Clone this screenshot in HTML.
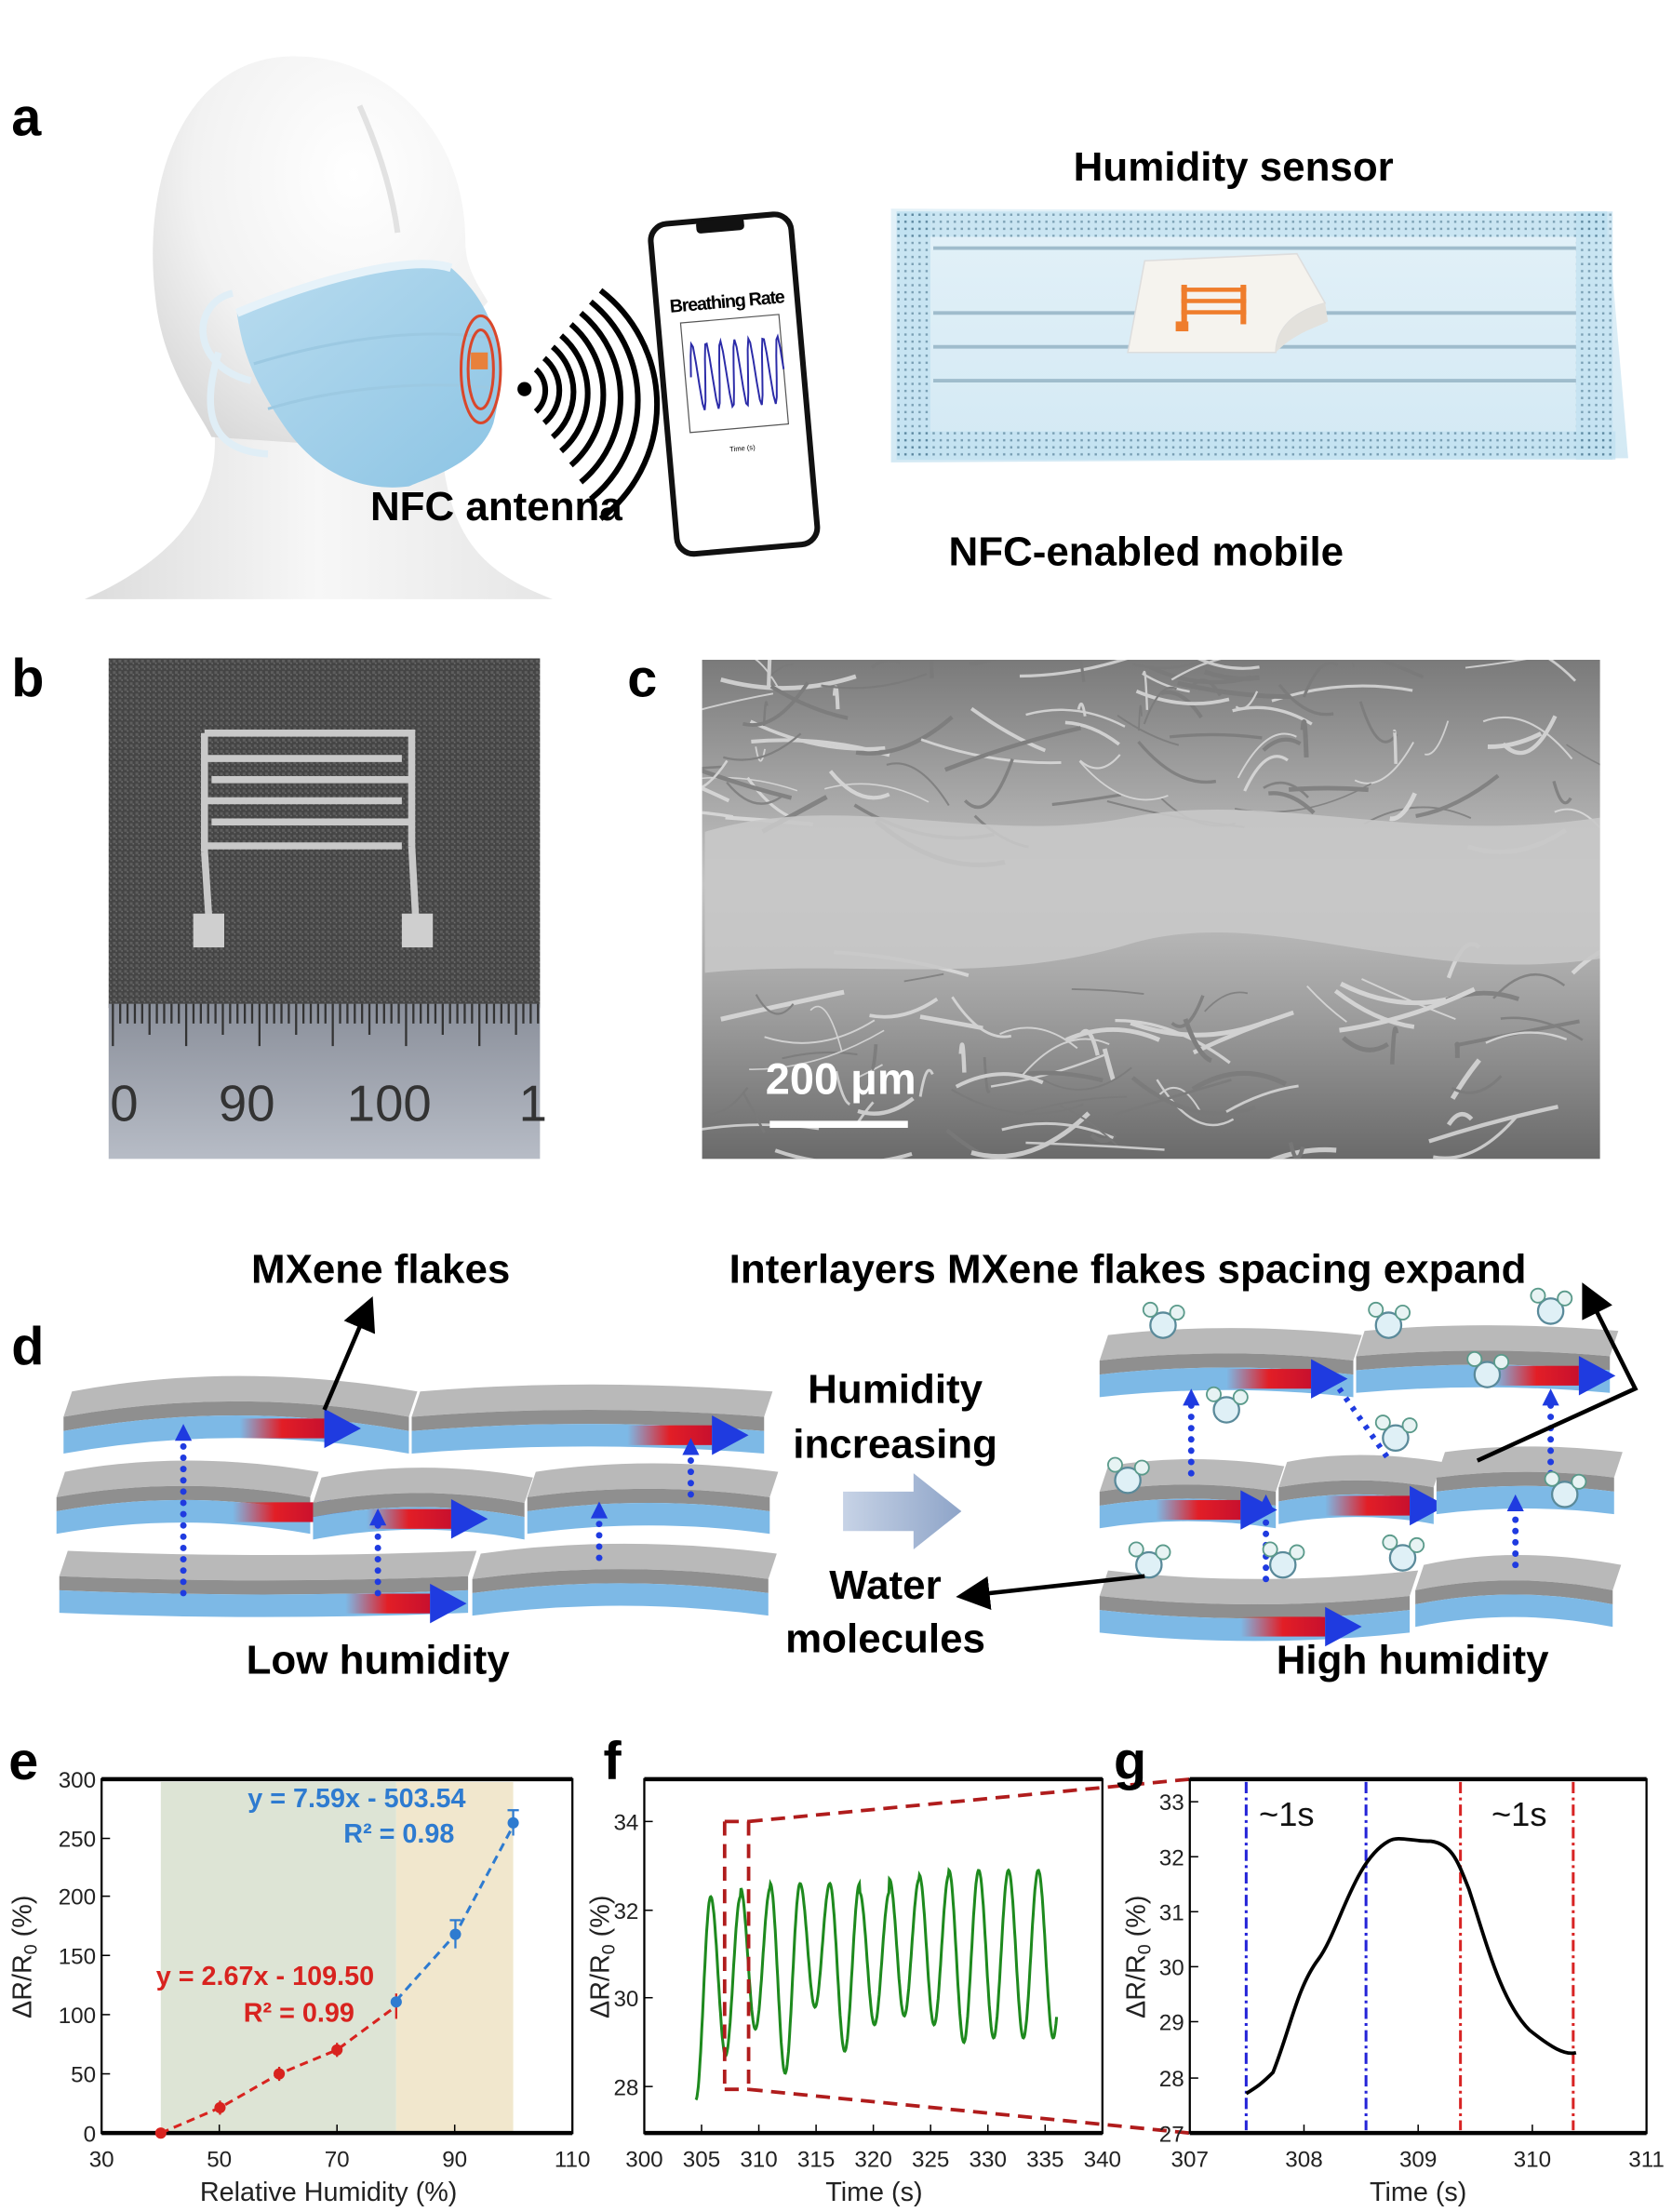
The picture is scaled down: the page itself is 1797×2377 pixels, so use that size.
<!DOCTYPE html>
<html><head><meta charset="utf-8">
<style>
html,body{margin:0;padding:0;background:#fff;}
svg{display:block;}
text{font-family:"Liberation Sans",sans-serif;}
</style></head>
<body>
<svg id="s" width="1797" height="2377" viewBox="0 0 1186 1569" xmlns="http://www.w3.org/2000/svg">
<defs>
<radialGradient id="head" cx="0.6" cy="0.3" r="0.8"><stop offset="0" stop-color="#ffffff"/><stop offset="0.6" stop-color="#f2f2f2"/><stop offset="1" stop-color="#d6d6d6"/></radialGradient>
<linearGradient id="neck" x1="0" y1="0" x2="1" y2="0"><stop offset="0" stop-color="#dcdcdc"/><stop offset="0.5" stop-color="#f7f7f7"/><stop offset="1" stop-color="#e6e6e6"/></linearGradient>
<linearGradient id="mask" x1="0" y1="0" x2="1" y2="1"><stop offset="0" stop-color="#b9dcef"/><stop offset="1" stop-color="#8cc4e4"/></linearGradient>
<linearGradient id="flat" x1="0" y1="0" x2="0" y2="1"><stop offset="0" stop-color="#e3f1f8"/><stop offset="1" stop-color="#d3e9f4"/></linearGradient>
<pattern id="dots" width="5" height="5" patternUnits="userSpaceOnUse"><rect width="5" height="5" fill="#bfe0f0"/><rect x="1.5" y="1.5" width="1.6" height="1.6" fill="#4f7d96"/></pattern>
<pattern id="fab" width="4" height="4" patternUnits="userSpaceOnUse"><rect width="4" height="4" fill="#454545"/><rect width="2" height="2" fill="#5e5e5e"/><rect x="2" y="2" width="1" height="1" fill="#727272"/></pattern>
<linearGradient id="sem" x1="0" y1="0" x2="0" y2="1"><stop offset="0" stop-color="#7a7a7a"/><stop offset="0.45" stop-color="#c4c4c4"/><stop offset="0.7" stop-color="#9f9f9f"/><stop offset="1" stop-color="#6a6a6a"/></linearGradient>
<linearGradient id="ruler" x1="0" y1="0" x2="0" y2="1"><stop offset="0" stop-color="#8a8f9a"/><stop offset="1" stop-color="#b7bcc6"/></linearGradient>
<linearGradient id="harrow" x1="0" y1="0" x2="1" y2="0"><stop offset="0" stop-color="#c7d3e6"/><stop offset="1" stop-color="#8ea4c8"/></linearGradient>
<linearGradient id="red" x1="0" y1="0" x2="1" y2="0"><stop offset="0" stop-color="#e21e26" stop-opacity="0"/><stop offset="0.5" stop-color="#e21e26"/><stop offset="1" stop-color="#c8102e"/></linearGradient>
<clipPath id="semclip"><rect x="498" y="468" width="637" height="354"/></clipPath>
<marker id="ah" markerWidth="8" markerHeight="8" refX="6" refY="4" orient="auto"><path d="M0,0 L8,4 L0,8 z" fill="#000"/></marker>
</defs>

<!-- ===== a ===== -->
<text x="8" y="96" font-size="38" font-weight="bold">a</text>
<!-- neck & base -->
<path d="M150,290 C160,340 140,390 60,425 L392,425 C340,405 315,380 312,300 Z" fill="url(#neck)"/>
<!-- head -->
<path d="M205,40 C275,38 330,95 330,170 C330,190 338,200 346,214 L336,226 C342,245 336,262 340,282 C330,300 318,306 300,302 L300,320 L150,310 C140,290 115,260 110,210 C100,120 135,42 205,40 Z" fill="url(#head)"/>
<path d="M255,75 C275,120 280,150 282,165" stroke="#e2e2e2" stroke-width="4" fill="none"/>
<!-- ear loops -->
<path d="M165,208 C135,215 135,260 178,270" stroke="#e0eef6" stroke-width="5" fill="none"/>
<path d="M155,250 C140,300 155,320 190,322" stroke="#e0eef6" stroke-width="5" fill="none"/>
<!-- mask -->
<path d="M168,222 C220,200 290,180 320,190 C355,220 360,260 350,300 C340,330 300,340 290,345 C250,350 220,330 200,300 C180,270 172,250 168,222 Z" fill="url(#mask)"/>
<path d="M168,222 C220,200 290,180 320,190" stroke="#e6f2f9" stroke-width="6" fill="none"/>
<path d="M180,258 C240,240 300,232 350,240" stroke="#9cc9e2" stroke-width="2" fill="none"/>
<path d="M190,290 C240,275 300,270 348,275" stroke="#9cc9e2" stroke-width="2" fill="none"/>
<ellipse cx="341" cy="262" rx="14" ry="38" fill="none" stroke="#d9472b" stroke-width="2"/>
<ellipse cx="341" cy="262" rx="9" ry="28" fill="none" stroke="#d9472b" stroke-width="2"/>
<rect x="334" y="250" width="12" height="12" fill="#e8813b"/>
<!-- NFC waves -->
<circle cx="372" cy="276" r="5" fill="#000"/>
<g fill="none" stroke="#000" stroke-width="4">
<path d="M380,262 A20,20 0 0 1 380,292"/>
<path d="M386,254 A30,30 0 0 1 386,300"/>
<path d="M392,246 A42,42 0 0 1 392,310"/>
<path d="M398,238 A54,54 0 0 1 398,320"/>
<path d="M405,230 A66,66 0 0 1 405,330"/>
<path d="M412,222 A78,78 0 0 1 412,342"/>
<path d="M419,214 A90,90 0 0 1 419,354"/>
<path d="M426,206 A102,102 0 0 1 426,368"/>
</g>
<!-- phone -->
<g transform="rotate(-5 520 265)">
<rect x="470" y="155" width="100" height="235" rx="12" fill="#fff" stroke="#111" stroke-width="4"/>
<rect x="503" y="155" width="34" height="9" rx="3" fill="#111"/>
<text x="520" y="218" font-size="13" font-weight="bold" text-anchor="middle" letter-spacing="-0.8">Breathing Rate</text>
<rect x="486" y="226" width="70" height="78" fill="none" stroke="#555" stroke-width="0.8"/>
<path id="bw" d="" fill="none" stroke="#2b2ba8" stroke-width="1.3"/>
<text x="522" y="320" font-size="5" text-anchor="middle">Time (s)</text>
</g>
<!-- flat mask -->
<path d="M632,148 L1140,150 L1155,325 L632,328 Z" fill="url(#flat)"/>
<rect x="636" y="150" width="504" height="18" fill="url(#dots)" opacity="0.7"/>
<rect x="636" y="306" width="510" height="20" fill="url(#dots)" opacity="0.7"/>
<rect x="636" y="150" width="24" height="176" fill="url(#dots)" opacity="0.7"/>
<rect x="1118" y="150" width="26" height="176" fill="url(#dots)" opacity="0.7"/>
<g stroke="#9fbccc" stroke-width="2.5"><line x1="662" y1="176" x2="1118" y2="176"/><line x1="662" y1="222" x2="1118" y2="222"/><line x1="662" y1="246" x2="1118" y2="246"/><line x1="662" y1="270" x2="1118" y2="270"/></g>
<path d="M812,185 L920,180 L940,215 C912,222 905,238 905,250 L800,250 Z" fill="#f5f3ee" stroke="#ddd"/>
<path d="M940,215 C912,222 905,238 905,250 C918,236 935,232 942,228 Z" fill="#e3e1dc"/>
<g fill="#ef7d2c"><rect x="838" y="202" width="4" height="28"/><rect x="880" y="202" width="4" height="28"/><rect x="838" y="204" width="46" height="3"/><rect x="838" y="212" width="46" height="3"/><rect x="838" y="220" width="46" height="3"/><rect x="834" y="228" width="9" height="7"/></g>
<text x="875" y="128" font-size="29" font-weight="bold" text-anchor="middle">Humidity sensor</text>
<text x="352" y="369" font-size="29" font-weight="bold" text-anchor="middle">NFC antenna</text>
<text x="813" y="401" font-size="29" font-weight="bold" text-anchor="middle">NFC-enabled mobile</text>

<!-- ===== b ===== -->
<text x="8" y="494" font-size="38" font-weight="bold">b</text>
<rect x="77" y="467" width="306" height="248" fill="url(#fab)"/>
<g fill="none" stroke="#c9c9c9" stroke-width="5">
<path d="M145,520 L292,520 L292,600 M145,520 L145,604"/>
<path d="M145,538 L285,538 M150,553 L292,553 M145,568 L285,568 M150,583 L292,583 M145,600 L285,600"/>
<path d="M145,604 L148,650 M292,600 L295,655"/>
</g>
<rect x="137" y="648" width="22" height="24" fill="#cfcfcf"/><rect x="285" y="648" width="22" height="24" fill="#cfcfcf"/>
<rect x="77" y="712" width="306" height="110" fill="url(#ruler)"/>
<g stroke="#333" stroke-width="1.5" id="ticks"></g>
<text x="78" y="795" font-size="36" fill="#333">0</text>
<text x="155" y="795" font-size="36" fill="#333">90</text>
<text x="246" y="795" font-size="36" fill="#333">100</text>
<text x="368" y="795" font-size="36" fill="#333">1</text>

<!-- ===== c ===== -->
<text x="445" y="494" font-size="38" font-weight="bold">c</text>
<rect x="498" y="468" width="637" height="354" fill="url(#sem)"/>
<g clip-path="url(#semclip)">
<g id="fib" stroke="#d6d6d6" fill="none" stroke-width="2" opacity="0.8"></g>
<path d="M500,590 C600,560 700,600 800,580 C900,560 1000,600 1135,580 L1135,680 C1000,700 900,640 800,670 C700,700 600,680 500,690 Z" fill="#c8c8c8" opacity="0.9"/>
</g>
<text x="543" y="776" font-size="31" font-weight="bold" fill="#fff">200 μm</text>
<rect x="546" y="795" width="98" height="5" fill="#fff"/>

<!-- ===== d ===== -->
<text x="8" y="968" font-size="38" font-weight="bold">d</text>
<g id="flakes"></g>
<text x="270" y="910" font-size="29" font-weight="bold" text-anchor="middle">MXene flakes</text>
<line x1="230" y1="1000" x2="262" y2="925" stroke="#000" stroke-width="3" marker-end="url(#ah)"/>
<text x="800" y="910" font-size="29" font-weight="bold" text-anchor="middle">Interlayers MXene flakes spacing expand</text>
<path d="M1048,1036 L1160,985 L1125,915" fill="none" stroke="#000" stroke-width="3" marker-end="url(#ah)"/>
<text x="635" y="995" font-size="29" font-weight="bold" text-anchor="middle">Humidity</text>
<text x="635" y="1034" font-size="29" font-weight="bold" text-anchor="middle">increasing</text>
<path d="M598,1058 L648,1058 L648,1045 L682,1072 L648,1099 L648,1086 L598,1086 Z" fill="url(#harrow)"/>
<text x="628" y="1134" font-size="29" font-weight="bold" text-anchor="middle">Water</text>
<text x="628" y="1172" font-size="29" font-weight="bold" text-anchor="middle">molecules</text>
<line x1="812" y1="1118" x2="684" y2="1132" stroke="#000" stroke-width="3" marker-end="url(#ah)"/>
<text x="268" y="1187" font-size="29" font-weight="bold" text-anchor="middle">Low humidity</text>
<text x="1002" y="1187" font-size="29" font-weight="bold" text-anchor="middle">High humidity</text>

<!-- ===== e ===== -->
<text x="6" y="1262" font-size="38" font-weight="bold">e</text>
<rect x="114" y="1264" width="167" height="249" fill="#dde4d5"/>
<rect x="281" y="1264" width="83" height="249" fill="#f1e7cd"/>
<rect x="72" y="1262" width="334" height="251" fill="none" stroke="#000" stroke-width="1.5"/>
<line x1="72" y1="1262" x2="406" y2="1262" stroke="#000" stroke-width="3"/>
<line x1="72" y1="1513" x2="406" y2="1513" stroke="#000" stroke-width="3"/>
<g id="eax" font-size="16" fill="#222"></g>
<text x="233" y="1561" font-size="19" text-anchor="middle" fill="#222">Relative Humidity (%)</text>
<text transform="translate(22 1388) rotate(-90)" font-size="19" text-anchor="middle" fill="#222">ΔR/R<tspan font-size="13" dy="4">0</tspan><tspan dy="-4"> (%)</tspan></text>
<polyline points="114,1513 156,1495 198,1471 239,1454 281,1423" fill="none" stroke="#d8231f" stroke-width="2" stroke-dasharray="6,4"/>
<polyline points="281,1419 323,1372 364,1295" fill="none" stroke="#2e7bd0" stroke-width="2" stroke-dasharray="6,4"/>
<g fill="#d8231f"><circle cx="114" cy="1513" r="4"/><circle cx="156" cy="1495" r="4"/><circle cx="198" cy="1471" r="4"/><circle cx="239" cy="1454" r="4"/></g>
<g stroke="#d8231f" stroke-width="1.5"><line x1="156" y1="1490" x2="156" y2="1500"/><line x1="198" y1="1466" x2="198" y2="1476"/><line x1="239" y1="1449" x2="239" y2="1459"/><line x1="281" y1="1414" x2="281" y2="1432"/></g>
<g fill="#2e7bd0"><circle cx="281" cy="1420" r="4"/><circle cx="323" cy="1372" r="4"/><circle cx="364" cy="1293" r="4"/></g>
<g stroke="#2e7bd0" stroke-width="1.5"><line x1="323" y1="1362" x2="323" y2="1382"/><line x1="364" y1="1284" x2="364" y2="1302"/><line x1="360" y1="1284" x2="368" y2="1284"/><line x1="319" y1="1362" x2="327" y2="1362"/></g>
<text x="253" y="1282" font-size="19" font-weight="bold" fill="#2e7bd0" text-anchor="middle">y = 7.59x - 503.54</text>
<text x="283" y="1307" font-size="19" font-weight="bold" fill="#2e7bd0" text-anchor="middle">R² = 0.98</text>
<text x="188" y="1408" font-size="19" font-weight="bold" fill="#d8231f" text-anchor="middle">y = 2.67x - 109.50</text>
<text x="212" y="1434" font-size="19" font-weight="bold" fill="#d8231f" text-anchor="middle">R² = 0.99</text>

<!-- ===== f ===== -->
<text x="428" y="1262" font-size="38" font-weight="bold">f</text>
<rect x="457" y="1262" width="325" height="251" fill="none" stroke="#000" stroke-width="1.5"/>
<line x1="457" y1="1262" x2="782" y2="1262" stroke="#000" stroke-width="3"/>
<line x1="457" y1="1513" x2="782" y2="1513" stroke="#000" stroke-width="3"/>
<g id="fax" font-size="16" fill="#222"></g>
<text x="620" y="1561" font-size="19" text-anchor="middle" fill="#222">Time (s)</text>
<text transform="translate(432 1388) rotate(-90)" font-size="19" text-anchor="middle" fill="#222">ΔR/R<tspan font-size="13" dy="4">0</tspan><tspan dy="-4"> (%)</tspan></text>
<path id="fw" d="" fill="none" stroke="#1e8a1e" stroke-width="2"/>
<g stroke="#b01c1c" stroke-width="2.5" stroke-dasharray="10,6" fill="none">
<line x1="514" y1="1292" x2="514" y2="1482"/><line x1="531" y1="1292" x2="531" y2="1482"/>
<line x1="514" y1="1292" x2="531" y2="1292"/><line x1="514" y1="1482" x2="531" y2="1482"/>
<line x1="531" y1="1292" x2="844" y2="1262"/><line x1="531" y1="1482" x2="844" y2="1513"/>
</g>

<!-- ===== g ===== -->
<text x="790" y="1262" font-size="38" font-weight="bold">g</text>
<rect x="844" y="1262" width="324" height="251" fill="none" stroke="#000" stroke-width="1.5"/>
<line x1="844" y1="1262" x2="1168" y2="1262" stroke="#000" stroke-width="3"/>
<line x1="844" y1="1513" x2="1168" y2="1513" stroke="#000" stroke-width="3"/>
<g id="gax" font-size="16" fill="#222"></g>
<text x="1006" y="1561" font-size="19" text-anchor="middle" fill="#222">Time (s)</text>
<text transform="translate(812 1388) rotate(-90)" font-size="19" text-anchor="middle" fill="#222">ΔR/R<tspan font-size="13" dy="4">0</tspan><tspan dy="-4"> (%)</tspan></text>
<g stroke-width="2" stroke-dasharray="8,3,2,3">
<line x1="884" y1="1264" x2="884" y2="1511" stroke="#2424d8"/>
<line x1="969" y1="1264" x2="969" y2="1511" stroke="#2424d8"/>
<line x1="1036" y1="1264" x2="1036" y2="1511" stroke="#d82424"/>
<line x1="1116" y1="1264" x2="1116" y2="1511" stroke="#d82424"/>
</g>
<text x="893" y="1295" font-size="24" fill="#111">~1s</text>
<text x="1058" y="1295" font-size="24" fill="#111">~1s</text>
<path d="M884,1485 C892,1480 895,1478 903,1470 C915,1440 920,1410 935,1390 C950,1370 960,1320 985,1306 C992,1302 1000,1306 1015,1306 C1030,1308 1034,1320 1042,1340 C1055,1380 1065,1420 1085,1440 C1100,1452 1110,1458 1118,1456" fill="none" stroke="#000" stroke-width="2.5"/>
</svg>
<script>
var NS="http://www.w3.org/2000/svg";
function el(p,t,a,txt){var e=document.createElementNS(NS,t);for(var k in a)e.setAttribute(k,a[k]);if(txt!==undefined)e.textContent=txt;p.appendChild(e);return e;}
(function(){var d="";for(var i=0;i<=60;i++){var x=490+i*1.1;var y=265-24*Math.sin(i/60*2*Math.PI*6.5);d+=(i?"L":"M")+x.toFixed(1)+","+y.toFixed(1);}document.getElementById("bw").setAttribute("d",d);})();
(function(){var g=document.getElementById("ticks");for(var i=0;i<59;i++){var x=80+i*5.2;var h=(i%10==0)?30:(i%5==0?22:14);el(g,"line",{x1:x,y1:712,x2:x,y2:712+h});}})();
(function(){var g=document.getElementById("fib");var s=7;function r(){s=(s*9301+49297)%233280;return s/233280;}
for(var i=0;i<170;i++){var x=500+r()*635,y=(r()<0.5)?470+r()*120:690+r()*130;var dx=(r()-0.5)*200,dy=(r()-0.5)*60;el(g,"path",{d:"M"+x+","+y+" q"+dx/2+","+(dy+(r()-0.5)*40)+" "+dx+","+dy,"stroke-width":1+r()*2.5,stroke:r()<0.5?"#e0e0e0":"#7a7a7a"});}})();
(function(){var g=document.getElementById("flakes");
function flake(x,y,w,b,arrow,ax){
 el(g,"path",{d:"M"+(x+6)+","+(y-18)+" Q"+(x+w/2)+","+(y-18-b)+" "+(x+w+6)+","+(y-18)+" L"+(x+w)+","+y+" Q"+(x+w/2)+","+(y-b)+" "+x+","+y+" Z",fill:"#b9b9b9"});
 el(g,"path",{d:"M"+x+","+y+" Q"+(x+w/2)+","+(y-b)+" "+(x+w)+","+y+" L"+(x+w)+","+(y+10)+" Q"+(x+w/2)+","+(y+10-b)+" "+x+","+(y+10)+" Z",fill:"#8f8f8f"});
 el(g,"path",{d:"M"+x+","+(y+10)+" Q"+(x+w/2)+","+(y+10-b)+" "+(x+w)+","+(y+10)+" L"+(x+w)+","+(y+26)+" Q"+(x+w/2)+","+(y+26-b)+" "+x+","+(y+26)+" Z",fill:"#7db9e6"});
 if(arrow){var ay=y+17-b*0.4;el(g,"rect",{x:ax-60,y:ay-7,width:60,height:14,fill:"url(#red)"});el(g,"path",{d:"M"+ax+","+(ay-14)+" L"+(ax+26)+","+ay+" L"+ax+","+(ay+14)+" Z",fill:"#1f3be0"});}
}
function dots(x,y1,y2){for(var y=y2;y>y1+10;y-=8)el(g,"circle",{cx:x,cy:y,r:2.3,fill:"#1f3be0"});el(g,"path",{d:"M"+(x-6)+","+(y1+12)+" L"+x+","+y1+" L"+(x+6)+","+(y1+12)+" Z",fill:"#1f3be0"});}
function water(x,y){el(g,"circle",{cx:x,cy:y,r:9,fill:"#dff0f6",stroke:"#5a8a9a","stroke-width":1.5});el(g,"circle",{cx:x-9,cy:y-11,r:5,fill:"#e7f3f3",stroke:"#5a9a8a","stroke-width":1.2});el(g,"circle",{cx:x+10,cy:y-9,r:5,fill:"#e7f3f3",stroke:"#5a9a8a","stroke-width":1.2});}
flake(42,1118,290,-6,true,305);flake(335,1120,210,14,false);
flake(40,1062,180,16,true,225);flake(222,1066,150,14,true,320);flake(374,1062,172,12,false);
flake(45,1005,245,22,true,230);flake(292,1005,250,10,true,505);
dots(130,1010,1130);dots(268,1070,1130);dots(425,1065,1105);dots(490,1020,1060);
flake(780,1132,220,-12,true,940);flake(1004,1128,140,14,false);
flake(780,1058,125,10,true,880);flake(907,1055,110,10,true,1000);flake(1019,1048,126,8,false);
flake(780,965,180,10,true,930);flake(962,962,180,8,true,1120);
dots(898,1060,1120);dots(1075,1060,1110);dots(845,985,1045);dots(1100,985,1045);
el(g,"path",{d:"M950,985 L985,1035",stroke:"#1f3be0","stroke-width":4,"stroke-dasharray":"3,5"});
water(815,1110);water(910,1110);water(995,1105);water(800,1050);water(870,1000);water(990,1020);water(1055,975);water(1110,1060);water(825,940);water(985,940);water(1100,930);
})();
function axes(id,x0,x1,xs,ys){var g=document.getElementById(id);
 xs.forEach(function(v){var x=x0+(v-xs[0])/(xs[xs.length-1]-xs[0])*(x1-x0);el(g,"text",{x:x,y:1537,"text-anchor":"middle"},v);el(g,"line",{x1:x,y1:1513,x2:x,y2:1507,stroke:"#000"});});
 ys.forEach(function(p){el(g,"text",{x:x0-4,y:p[1]+6,"text-anchor":"end"},p[0]);el(g,"line",{x1:x0,y1:p[1],x2:x0+6,y2:p[1],stroke:"#000"});});}
axes("eax",72,406,[30,50,70,90,110],[[0,1513],[50,1471],[100,1429],[150,1387],[200,1345],[250,1304],[300,1262]]);
axes("fax",457,782,[300,305,310,315,320,325,330,335,340],[[28,1480],[30,1417],[32,1355],[34,1292]]);
axes("gax",844,1168,[307,308,309,310,311],[[27,1513],[28,1474],[29,1434],[30,1395],[31,1356],[32,1317],[33,1278]]);
(function(){var d="";var peaks=[32.3,32.3,32.5,32.6,32.6,32.6,32.4,32.7,32.8,32.9,32.9,32.9];var mins=[27.7,28.7,29.3,28.3,29.8,28.8,29.4,29.6,29.4,29.0,29.1,29.1];
var t0=304.5,per=2.6;for(var i=0;i<=600;i++){var t=t0+i*(31.5/600);var ph=(t-t0)/per;var k=Math.min(11,Math.floor(ph+0.5));
var v=mins[k]+(peaks[k]-mins[k])*Math.pow(Math.sin(Math.PI*ph),2);
var x=457+(t-300)/40*325;var y=1480-(v-28)*31.3;d+=(i?"L":"M")+x.toFixed(1)+","+y.toFixed(1);}document.getElementById("fw").setAttribute("d",d);})();
</script>
</body></html>
